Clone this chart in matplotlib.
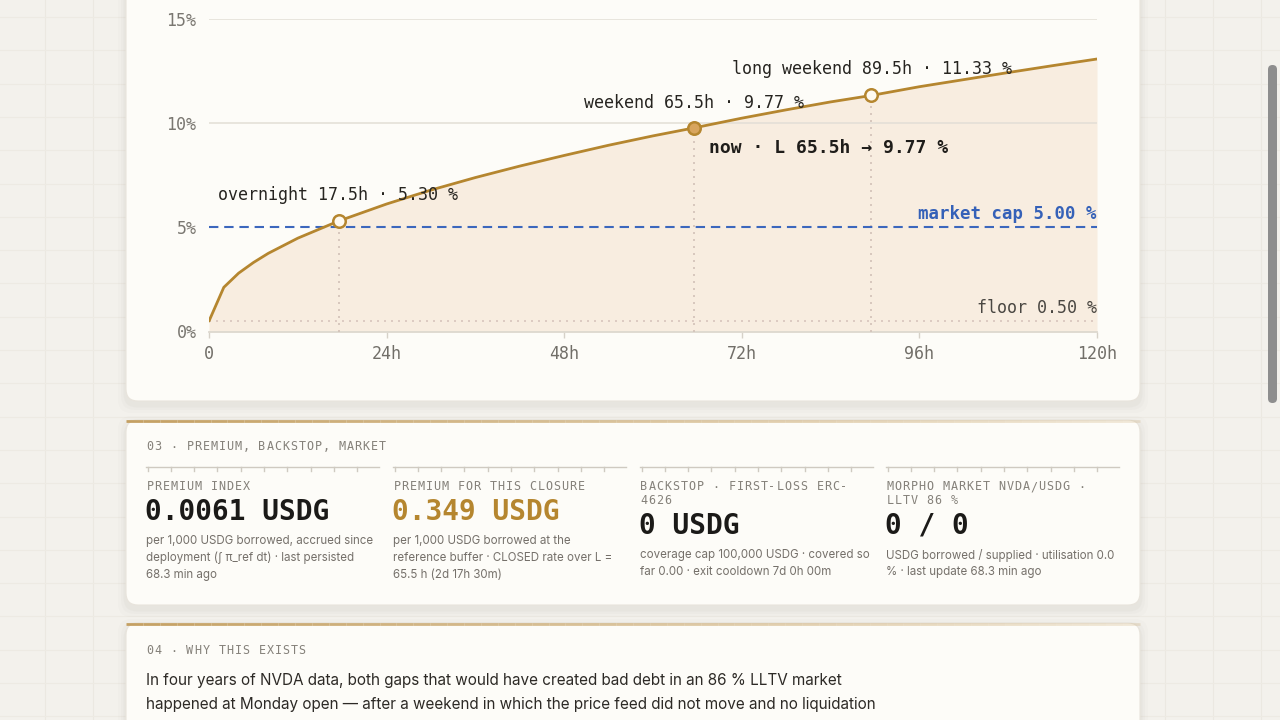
import matplotlib.pyplot as plt
from matplotlib.patches import FancyBboxPatch
from matplotlib.collections import LineCollection

# ---- data ----
hours = [0, 2, 4, 6, 8, 12, 17.5, 24, 30, 36, 42, 48, 54, 60, 65.5,
         72, 78, 84, 89.5, 96, 102, 108, 114, 120]
premium_pct = [0.50, 2.12, 2.80, 3.31, 3.75, 4.48, 5.30, 6.12, 6.79, 7.39, 7.94, 8.45,
               8.94, 9.39, 9.77, 10.24, 10.64, 11.02, 11.33, 11.75, 12.09, 12.43, 12.76, 13.08]

mark_names = ["overnight", "weekend", "long weekend"]
mark_hours = [17.5, 65.5, 89.5]
mark_pct = [5.30, 9.77, 11.33]
now_hours = 65.5
now_pct = 9.77
floor_pct = 0.50
cap_pct = 5.00

x_ticks = [0, 24, 48, 72, 96, 120]
x_ticklabels = ["0", "24h", "48h", "72h", "96h", "120h"]
y_ticks = [0, 5, 10, 15]
y_ticklabels = ["0%", "5%", "10%", "15%"]

section3 = "03 · PREMIUM, BACKSTOP, MARKET"
stat_titles = [["PREMIUM INDEX"], ["PREMIUM FOR THIS CLOSURE"],
               ["BACKSTOP · FIRST-LOSS ERC-", "4626"], ["MORPHO MARKET NVDA/USDG ·", "LLTV 86 %"]]
stat_values = ["0.0061 USDG", "0.349 USDG", "0 USDG", "0 / 0"]
stat_notes = [["per 1,000 USDG borrowed, accrued since", "deployment (∫ π_ref dt) · last persisted", "68.3 min ago"],
              ["per 1,000 USDG borrowed at the", "reference buffer · CLOSED rate over L =", "65.5 h (2d 17h 30m)"],
              ["coverage cap 100,000 USDG · covered so", "far 0.00 · exit cooldown 7d 0h 00m"],
              ["USDG borrowed / supplied · utilisation 0.0", "% · last update 68.3 min ago"]]
section4 = "04 · WHY THIS EXISTS"
body4 = ["In four years of NVDA data, both gaps that would have created bad debt in an 86 % LLTV market",
         "happened at Monday open — after a weekend in which the price feed did not move and no liquidation"]

MONO = "DejaVu Sans Mono"
SANS = "Inter"
GOLD = "#b5862f"
BLUE = "#3c67bd"

fig = plt.figure(figsize=(12.8, 7.2), dpi=100)
fig.patch.set_facecolor("#f3f1ec")

# page layer in pixel coordinates
bg = fig.add_axes([0, 0, 1, 1])
bg.set_xlim(0, 1280)
bg.set_ylim(720, 0)
bg.axis("off")

# faint page grid
for gx in [45, 93, 1165, 1213, 1261]:
    bg.plot([gx, gx], [0, 720], color="#ebe8e1", lw=0.8, zorder=0)
gy = 17
while gy < 720:
    bg.plot([0, 1280], [gy, gy], color="#edeae3", lw=0.8, zorder=0)
    gy += 33.3


def card(y0, y1, gold_top):
    for k, a in [(8, 0.018), (5, 0.025), (2.5, 0.035)]:
        bg.add_patch(FancyBboxPatch((126 - k, y0 - k + 4), 1014 + 2 * k, y1 - y0 + 2 * k,
                                    boxstyle="round,pad=0,rounding_size=14",
                                    fc="#6b6455", ec="none", alpha=a, zorder=1))
    bg.add_patch(FancyBboxPatch((126, y0), 1014, y1 - y0, boxstyle="round,pad=0,rounding_size=12",
                                fc="#fdfcf8", ec="#e8e4dc", lw=0.8, zorder=2))
    if gold_top:
        n = 60
        xs = [126 + 1014 * i / n for i in range(n + 1)]
        segs = [[(xs[i], y0 + 0.5), (xs[i + 1], y0 + 0.5)] for i in range(n)]
        cols = [(0.76, 0.61, 0.36, 0.95 - 0.75 * i / n) for i in range(n)]
        bg.add_collection(LineCollection(segs, colors=cols, linewidths=2.0, zorder=3))


card(-40, 401, False)
card(420, 605, True)
card(623, 780, True)

# scrollbar
bg.add_patch(FancyBboxPatch((1268, 65), 9, 338, boxstyle="round,pad=0,rounding_size=4.5",
                            fc="#8e8e8e", ec="none", zorder=2))


def spaced(x, y, s, size=8.5, step=8.0, color="#85817a"):
    for i, ch in enumerate(s):
        bg.text(x + i * step + step / 2, y, ch, ha="center", va="center",
                fontsize=size, family=MONO, color=color, zorder=5)


# ---- section 03 ----
spaced(146, 447, section3)
col_x = [146, 393, 640, 886]
for i, x0 in enumerate(col_x):
    bg.plot([x0, x0 + 233], [466.5, 466.5], color="#cfcac1", lw=1, zorder=4)
    for k in range(10):
        tx = x0 + 1.5 + 23.3 * k
        bg.plot([tx, tx], [466.5, 470.5], color="#cfcac1", lw=1, zorder=4)
    for j, line in enumerate(stat_titles[i]):
        spaced(x0, 487 + 14 * j, line)
    shift = 14 * (len(stat_titles[i]) - 1)
    bg.text(x0 - 1, 512 + shift, stat_values[i], ha="left", va="center", fontsize=20,
            fontweight="bold", family=MONO, color=GOLD if i == 1 else "#1b1a18", zorder=5)
    for j, line in enumerate(stat_notes[i]):
        bg.text(x0, 541 + shift + 17 * j, line, ha="left", va="center", fontsize=8.3,
                family=SANS, color="#75706a", zorder=5)

# ---- section 04 ----
spaced(146, 651, section4)
for j, line in enumerate(body4):
    bg.text(146, 680 + 25 * j, line, ha="left", va="center", fontsize=11,
            family=SANS, color="#2d2a26", zorder=5)

# ---- chart ----
ax = fig.add_axes([209 / 1280, (720 - 331.5) / 720, 888 / 1280, 312.5 / 720])
ax.set_xlim(0, 120)
ax.set_ylim(0, 15)
ax.patch.set_alpha(0)
for s in ax.spines.values():
    s.set_visible(False)

ax.fill_between(hours, premium_pct, 0, color="#f8ede0", lw=0, zorder=1)
for yv in [10, 15]:
    ax.axhline(yv, color="#e2ded6", lw=1.1, zorder=2)
ax.axhline(0, color="#ddd8cf", lw=1.3, zorder=2, clip_on=False)
ax.axhline(floor_pct, color="#d8c5bd", lw=1.2, ls=(0, (1.2, 3)), zorder=2)
ax.axhline(cap_pct, color=BLUE, lw=1.5, ls=(0, (4.5, 2.8)), zorder=3)
for h, p in zip(mark_hours, mark_pct):
    ax.plot([h, h], [0, p], color="#d2c1b8", lw=1.2, ls=(0, (1.2, 3)), zorder=2)

ax.plot(hours, premium_pct, color=GOLD, lw=2.0, zorder=4, solid_capstyle="round")
for h, p in zip(mark_hours, mark_pct):
    face = "#d8a55e" if h == now_hours else "#fffaf0"
    ax.plot([h], [p], marker="o", ms=9, mfc=face, mec=GOLD, mew=1.8, zorder=6, clip_on=False)

label_offsets = [(-120, 26.5), (-110, 25), (-139.5, 26.5)]
for name, h, p, off in zip(mark_names, mark_hours, mark_pct, label_offsets):
    ax.annotate(f"{name} {h}h · {p:.2f} %", xy=(h, p), xytext=off, textcoords="offset pixels",
                ha="left", va="center", fontsize=12, family=MONO, color="#262420", zorder=7)
ax.annotate(f"now · L {now_hours}h → {now_pct:.2f} %", xy=(now_hours, now_pct), xytext=(15, -20),
            textcoords="offset pixels", ha="left", va="center", fontsize=13, fontweight="bold",
            family=MONO, color="#1f1d1a", zorder=7)
ax.annotate(f"market cap {cap_pct:.2f} %", xy=(120, cap_pct), xytext=(0, 13), textcoords="offset pixels",
            ha="right", va="center", fontsize=12.5, fontweight="bold", family=MONO, color="#3561b8", zorder=7)
ax.annotate(f"floor {floor_pct:.2f} %", xy=(120, floor_pct), xytext=(0, 13), textcoords="offset pixels",
            ha="right", va="center", fontsize=12, family=MONO, color="#4a4742", zorder=7)

ax.set_xticks(x_ticks)
ax.set_xticklabels(x_ticklabels)
ax.set_yticks(y_ticks)
ax.set_yticklabels(y_ticklabels)
ax.tick_params(axis="x", length=4, width=1, color="#d6d1c8", pad=6, labelsize=12, labelcolor="#716e68")
ax.tick_params(axis="y", length=0, pad=9, labelsize=12, labelcolor="#7a7771")
for t in ax.get_xticklabels() + ax.get_yticklabels():
    t.set_family(MONO)

fig.savefig("out.png", dpi=100, facecolor=fig.get_facecolor())
